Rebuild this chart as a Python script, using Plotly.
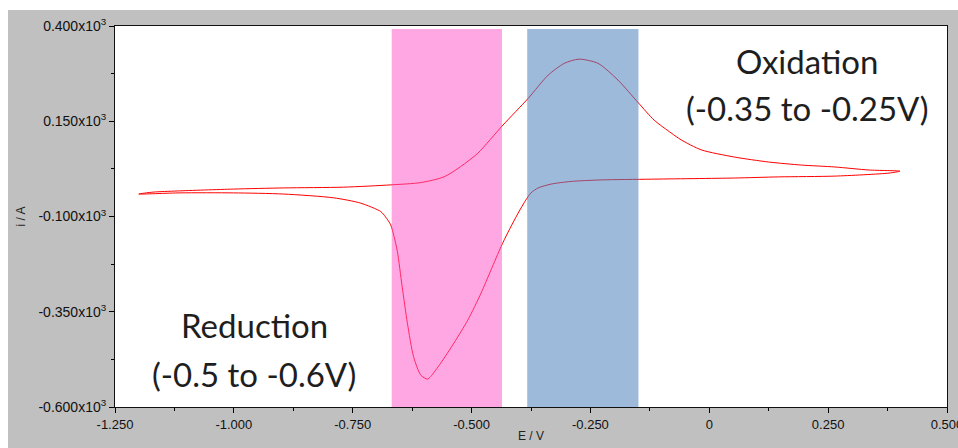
import plotly.graph_objects as go

# Cyclic voltammogram: forward (anodic) sweep then return (cathodic) sweep
potential_v = [
    -1.200, -1.170, -1.119, -1.001, -0.896, -0.769, -0.670, -0.607, -0.558,
    -0.523, -0.487, -0.434, -0.381, -0.339, -0.305, -0.274, -0.234, -0.192,
    -0.149, -0.116, -0.080, -0.059, -0.017, 0.053, 0.125, 0.194, 0.264,
    0.336, 0.401,
    0.378, 0.264, 0.146, 0.053, -0.122, -0.227, -0.291, -0.333, -0.360,
    -0.375, -0.386, -0.402, -0.424, -0.438, -0.459, -0.480, -0.508, -0.537,
    -0.565, -0.586, -0.593, -0.607, -0.622, -0.635, -0.646, -0.656, -0.663,
    -0.670, -0.681, -0.691, -0.733, -0.790, -0.896, -1.001, -1.113, -1.200,
]
current_ka = [
    -0.041, -0.036, -0.033, -0.028, -0.025, -0.023, -0.017, -0.011, 0.004,
    0.031, 0.066, 0.140, 0.210, 0.271, 0.302, 0.313, 0.302, 0.258,
    0.198, 0.153, 0.119, 0.101, 0.075, 0.056, 0.043, 0.035, 0.030,
    0.022, 0.019,
    0.014, 0.006, 0.004, 0.001, -0.002, -0.004, -0.008, -0.015, -0.025,
    -0.038, -0.057, -0.091, -0.143, -0.179, -0.240, -0.301, -0.372, -0.432,
    -0.485, -0.520, -0.527, -0.516, -0.468, -0.380, -0.284, -0.192, -0.153,
    -0.122, -0.101, -0.087, -0.065, -0.051, -0.041, -0.038, -0.038, -0.041,
]

# Highlighted potential windows
reduction_window = [-0.668, -0.436]
oxidation_window = [-0.383, -0.149]

x_ticks = [-1.25, -1.0, -0.75, -0.5, -0.25, 0.0, 0.25, 0.5]
x_tick_labels = ["-1.250", "-1.000", "-0.750", "-0.500", "-0.250", "0", "0.250", "0.500"]
y_ticks = [0.4, 0.15, -0.1, -0.35, -0.6]
y_tick_labels = ["0.400x10<sup>3</sup>", "0.150x10<sup>3</sup>", "-0.100x10<sup>3</sup>",
                 "-0.350x10<sup>3</sup>", "-0.600x10<sup>3</sup>"]

fig = go.Figure()
fig.add_trace(go.Scatter(
    x=potential_v, y=current_ka, mode="lines",
    line=dict(color="#ff0000", width=1, shape="spline", smoothing=0.7),
    hoverinfo="skip", showlegend=False,
))

# Shaded bands sit above the curve, partly transparent
fig.add_shape(type="rect", xref="x", yref="y",
              x0=reduction_window[0], x1=reduction_window[1], y0=-0.605, y1=0.392,
              fillcolor="rgba(255,80,200,0.5)", line_width=0, layer="above")
fig.add_shape(type="rect", xref="x", yref="y",
              x0=oxidation_window[0], x1=oxidation_window[1], y0=-0.607, y1=0.392,
              fillcolor="rgba(79,129,189,0.55)", line_width=0, layer="above")

# White strips along top and left of the grey frame
fig.add_shape(type="rect", xref="paper", yref="paper",
              x0=-0.2, x1=1.1, y0=1.0 + 16 / 381, y1=1.2,
              fillcolor="white", line_width=0, layer="below")
fig.add_shape(type="rect", xref="paper", yref="paper",
              x0=-115 / 832, x1=-107 / 832, y0=-0.2, y1=1.2,
              fillcolor="white", line_width=0, layer="below")

label_font = dict(family="Lato, Open Sans, sans-serif", size=33, color="#1e1e1e")
region_labels = [
    ("Oxidation", 0.205, 0.309),
    ("(-0.35 to -0.25V)", 0.205, 0.184),
    ("Reduction", -0.957, -0.384),
    ("(-0.5 to -0.6V)", -0.957, -0.513),
]
for text, xv, yv in region_labels:
    fig.add_annotation(x=xv, y=yv, xref="x", yref="y", text=text, showarrow=False,
                       font=label_font, xanchor="center", yanchor="middle")

title_font = dict(family="Liberation Sans, Arial, sans-serif", size=12, color="#222222")
fig.add_annotation(x=0.5, y=-29 / 381, xref="paper", yref="paper", text="E / V",
                   showarrow=False, font=title_font, xanchor="center", yanchor="middle")
fig.add_annotation(x=-95 / 832, y=0.5, xref="paper", yref="paper", text="i / A",
                   showarrow=False, font=title_font, textangle=-90,
                   xanchor="center", yanchor="middle")

x_tick_font = dict(family="Liberation Sans, Arial, sans-serif", size=13, color="#111111")
y_tick_font = dict(family="Liberation Sans, Arial, sans-serif", size=14, color="#111111")
fig.update_xaxes(
    range=[-1.25, 0.5], tickvals=x_ticks, ticktext=x_tick_labels,
    ticks="outside", ticklen=5, tickcolor="#000", tickwidth=1,
    minor=dict(ticks="outside", ticklen=3, tickcolor="#000", dtick=0.125, tick0=-1.25),
    showline=True, linecolor="#111", linewidth=1, mirror=True,
    showgrid=False, zeroline=False, tickfont=x_tick_font, automargin=False,
    ticklabeloverflow="allow",
)
fig.update_yaxes(
    range=[-0.6, 0.4], tickvals=y_ticks, ticktext=y_tick_labels,
    ticks="outside", ticklen=5, tickcolor="#000", tickwidth=1,
    minor=dict(ticks="outside", ticklen=3, tickcolor="#000", dtick=0.125, tick0=-0.6),
    showline=True, linecolor="#111", linewidth=1, mirror=True,
    showgrid=False, zeroline=False, tickfont=y_tick_font, automargin=False,
)

fig.update_layout(
    width=958, height=448,
    margin=dict(l=115, r=11, t=26, b=41),
    paper_bgcolor="#c0c0c0", plot_bgcolor="white",
)

fig.write_html("out.html")
